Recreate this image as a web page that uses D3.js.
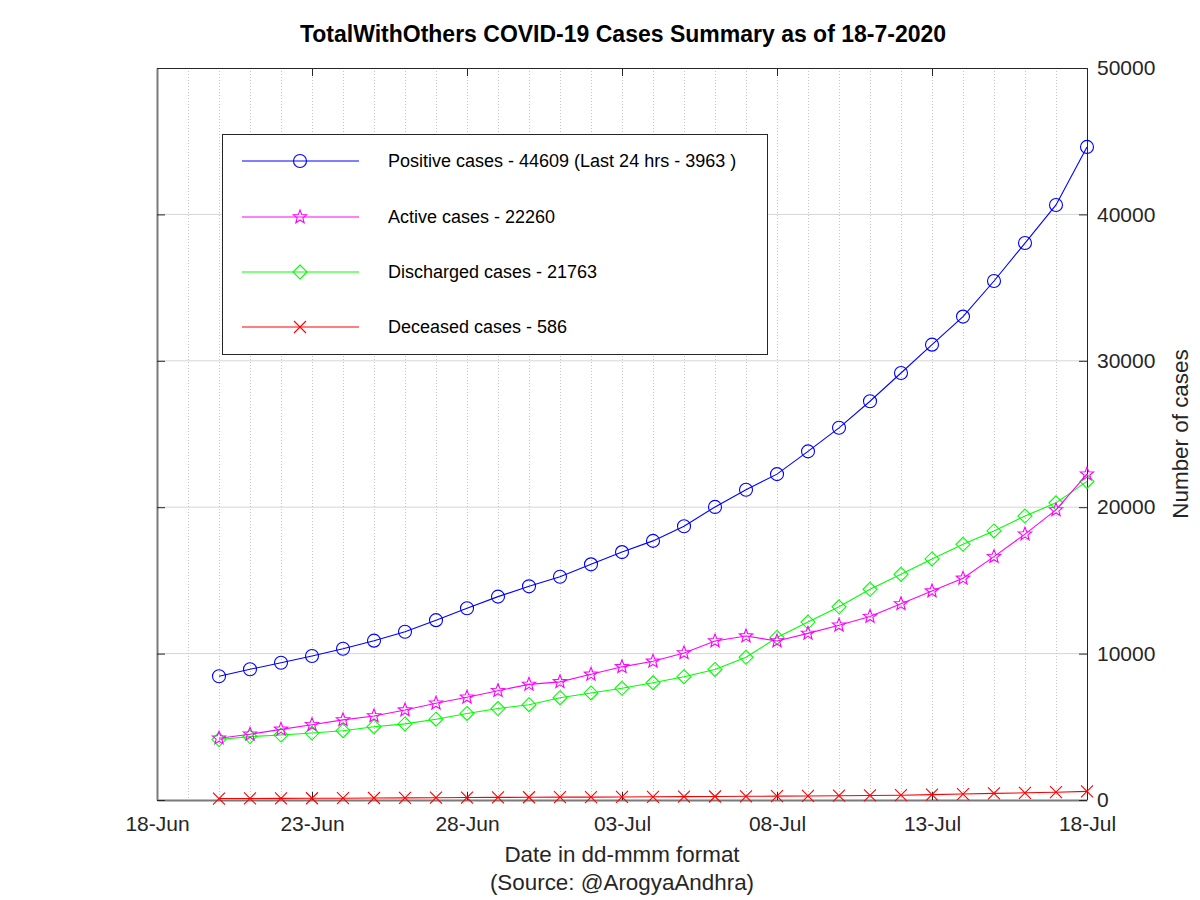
<!DOCTYPE html>
<html>
<head>
<meta charset="utf-8">
<script src="https://cdn.jsdelivr.net/npm/d3@7"></script>
<style>
  html, body { margin: 0; padding: 0; background: #fff; }
  svg { display: block; font-family: "Liberation Sans", Arial, Helvetica, sans-serif; }
</style>
</head>
<body>
<svg id="chart" width="1200" height="900"></svg>
<script>
// ---- Data ----
const dates = ["2020-06-20","2020-06-21","2020-06-22","2020-06-23","2020-06-24","2020-06-25","2020-06-26","2020-06-27","2020-06-28","2020-06-29","2020-06-30","2020-07-01","2020-07-02","2020-07-03","2020-07-04","2020-07-05","2020-07-06","2020-07-07","2020-07-08","2020-07-09","2020-07-10","2020-07-11","2020-07-12","2020-07-13","2020-07-14","2020-07-15","2020-07-16","2020-07-17","2020-07-18"];
const positive   = [8452, 8929, 9372, 9834, 10331, 10884, 11489, 12285, 13098, 13891, 14595, 15252, 16097, 16934, 17699, 18697, 20019, 21197, 22259, 23814, 25422, 27235, 29168, 31103, 33019, 35451, 38044, 40646, 44609];
const active     = [4220, 4491, 4826, 5141, 5474, 5742, 6146, 6609, 7017, 7465, 7897, 8071, 8586, 9096, 9473, 10043, 10860, 11200, 10860, 11383, 11936, 12533, 13398, 14274, 15144, 16621, 18159, 19814, 22260];
const discharged = [4131, 4332, 4435, 4574, 4733, 5006, 5197, 5519, 5912, 6246, 6511, 6988, 7313, 7632, 8008, 8422, 8920, 9745, 11101, 12154, 13194, 14393, 15412, 16464, 17467, 18378, 19393, 20298, 21763];
const deceased   = [101, 106, 111, 119, 124, 136, 146, 157, 169, 180, 187, 193, 198, 206, 218, 232, 239, 252, 264, 277, 292, 309, 328, 365, 408, 452, 492, 534, 586];
const yTicks = [0, 10000, 20000, 30000, 40000, 50000];
const xTickDates = ["2020-06-18","2020-06-23","2020-06-28","2020-07-03","2020-07-08","2020-07-13","2020-07-18"];
const legendLabels = [
  "Positive cases - 44609 (Last 24 hrs - 3963 )",
  "Active cases - 22260",
  "Discharged cases - 21763",
  "Deceased cases - 586"
];
const titleText = "TotalWithOthers COVID-19 Cases Summary as of 18-7-2020";

// ---- Setup ----
const parse = d3.utcParse("%Y-%m-%d");
const fmt = d3.utcFormat("%d-%b");
const svg = d3.select("#chart");
const L = 157, R = 1087, T = 68, B = 800;

const x = d3.scaleUtc().domain([parse("2020-06-18"), parse("2020-07-18")]).range([L, R]);
const y = d3.scaleLinear().domain([0, 50000]).range([B, T]);

// Grid: horizontal solid
svg.append("g").selectAll("line").data(yTicks.filter(v => v > 0 && v < 50000)).join("line")
  .attr("x1", L).attr("x2", R).attr("y1", d => y(d)).attr("y2", d => y(d))
  .attr("stroke", "#d6d6d6").attr("stroke-width", 1);

// Grid: vertical dotted every day
const days = d3.utcDay.range(parse("2020-06-19"), parse("2020-07-18"));
svg.append("g").selectAll("line").data(days).join("line")
  .attr("x1", d => x(d) + 0.5).attr("x2", d => x(d) + 0.5).attr("y1", T).attr("y2", B)
  .attr("stroke", "#c4c4c4").attr("stroke-width", 1).attr("stroke-dasharray", "1,2");

// Frame
svg.append("line").attr("x1", L).attr("x2", R).attr("y1", T + 0.5).attr("y2", T + 0.5).attr("stroke", "#262626");
svg.append("line").attr("x1", R + 0.5).attr("x2", R + 0.5).attr("y1", T).attr("y2", B).attr("stroke", "#262626");

// Axes (inward ticks)
const xTicks = xTickDates.map(parse);
const bottomAxis = d3.axisBottom(x).tickValues(xTicks).tickFormat(fmt).tickSizeInner(-8).tickSizeOuter(0).tickPadding(16);
const gB = svg.append("g").attr("transform", `translate(0,${B})`).call(bottomAxis);
gB.select(".domain").attr("stroke", "#7a7a7a").attr("stroke-width", 2);
gB.selectAll(".tick line").attr("stroke", "#262626");
gB.selectAll("text").attr("font-size", 21).attr("fill", "#262626").attr("font-family", "Liberation Sans, Arial, sans-serif");

const topAxis = d3.axisTop(x).tickValues(xTicks).tickFormat("").tickSizeInner(-8).tickSizeOuter(0);
const gT = svg.append("g").attr("transform", `translate(0,${T})`).call(topAxis);
gT.select(".domain").remove();
gT.selectAll(".tick line").attr("stroke", "#262626");

const rightAxis = d3.axisRight(y).tickValues(yTicks).tickFormat(d3.format("d")).tickSizeInner(-8).tickSizeOuter(0).tickPadding(10);
const gR = svg.append("g").attr("transform", `translate(${R},0)`).call(rightAxis);
gR.select(".domain").remove();
gR.selectAll(".tick line").attr("stroke", "#262626");
gR.selectAll("text").attr("font-size", 21).attr("fill", "#262626").attr("font-family", "Liberation Sans, Arial, sans-serif");

const leftAxis = d3.axisLeft(y).tickValues(yTicks).tickFormat("").tickSizeInner(-8).tickSizeOuter(0);
const gL = svg.append("g").attr("transform", `translate(${L},0)`).call(leftAxis);
gL.select(".domain").attr("stroke", "#7a7a7a").attr("stroke-width", 2);
gL.selectAll(".tick line").attr("stroke", "#262626");

// ---- Series ----
const seriesDefs = [
  { values: positive,   color: "#0000ff", marker: "circle" },
  { values: active,     color: "#ff00ff", marker: "star" },
  { values: discharged, color: "#00ff00", marker: "diamond" },
  { values: deceased,   color: "#ff0000", marker: "cross" }
];

function drawMarker(g, type, color, cx, cy) {
  if (type === "circle") {
    g.append("circle").attr("cx", cx).attr("cy", cy).attr("r", 6.5)
      .attr("fill", "none").attr("stroke", color).attr("stroke-width", 1.1);
  } else if (type === "star") {
    const pts = [];
    for (let i = 0; i < 10; i++) {
      const a = -Math.PI / 2 + i * Math.PI / 5;
      const r = i % 2 === 0 ? 7 : 3;
      pts.push([cx + r * Math.cos(a), cy + r * Math.sin(a)]);
    }
    g.append("polygon").attr("points", pts.map(p => p.join(",")).join(" "))
      .attr("fill", "none").attr("stroke", color).attr("stroke-width", 1.1);
  } else if (type === "diamond") {
    const s = 7;
    g.append("polygon").attr("points", `${cx},${cy - s} ${cx + s},${cy} ${cx},${cy + s} ${cx - s},${cy}`)
      .attr("fill", "none").attr("stroke", color).attr("stroke-width", 1.1);
  } else if (type === "cross") {
    const s = 6;
    g.append("path").attr("d", `M${cx - s},${cy - s}L${cx + s},${cy + s}M${cx - s},${cy + s}L${cx + s},${cy - s}`)
      .attr("fill", "none").attr("stroke", color).attr("stroke-width", 1.1);
  }
}

const line = d3.line().x((d, i) => x(parse(dates[i]))).y(d => y(d));
[...seriesDefs].reverse().forEach(s => {
  const g = svg.append("g");
  g.append("path").datum(s.values).attr("d", line)
    .attr("fill", "none").attr("stroke", s.color).attr("stroke-width", 1.1);
  s.values.forEach((v, i) => drawMarker(g, s.marker, s.color, x(parse(dates[i])), y(v)));
});

// ---- Legend ----
const lg = svg.append("g");
lg.append("rect").attr("x", 222.5).attr("y", 134.5).attr("width", 545).attr("height", 220)
  .attr("fill", "#fff").attr("stroke", "#262626").attr("stroke-width", 1);
const rowY = [161, 217, 272, 327];
seriesDefs.forEach((s, i) => {
  lg.append("line").attr("x1", 242).attr("x2", 359).attr("y1", rowY[i]).attr("y2", rowY[i])
    .attr("stroke", s.color).attr("stroke-width", 1);
  drawMarker(lg, s.marker, s.color, 300, rowY[i]);
  lg.append("text").attr("x", 388).attr("y", rowY[i]).attr("dy", "0.35em")
    .attr("font-size", 18).attr("fill", "#000").text(legendLabels[i]);
});

// ---- Titles ----
svg.append("text").attr("x", 623).attr("y", 42).attr("text-anchor", "middle")
  .attr("font-size", 23).attr("font-weight", "bold").attr("fill", "#000").text(titleText);
svg.append("text").attr("x", 622).attr("y", 862).attr("text-anchor", "middle")
  .attr("font-size", 22.4).attr("fill", "#262626").text("Date in dd-mmm format");
svg.append("text").attr("x", 622).attr("y", 890).attr("text-anchor", "middle")
  .attr("font-size", 22.4).attr("fill", "#262626").text("(Source: @ArogyaAndhra)");
svg.append("text").attr("transform", "translate(1188,434) rotate(-90)").attr("text-anchor", "middle")
  .attr("font-size", 22.4).attr("fill", "#262626").text("Number of cases");
</script>
</body>
</html>
